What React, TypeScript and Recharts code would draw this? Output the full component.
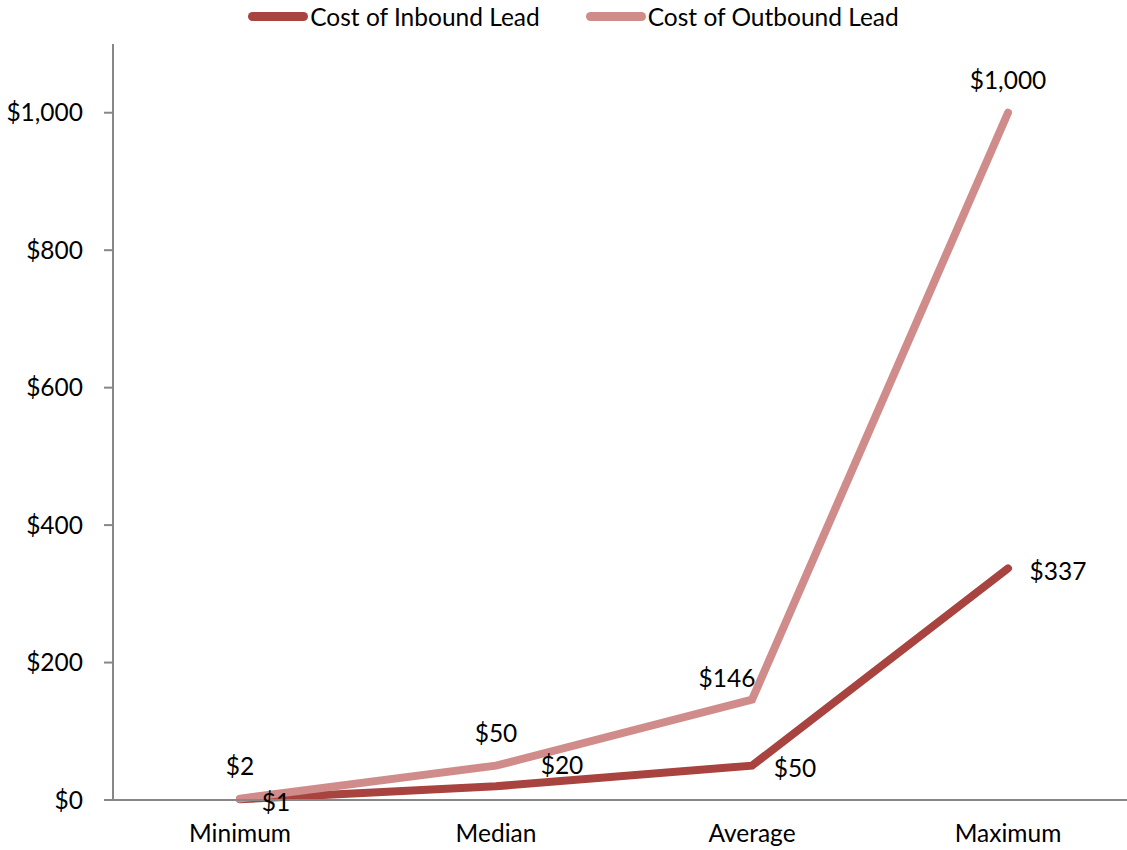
import React from "react";
import { LineChart, Line, XAxis, YAxis, Legend, LabelList } from "recharts";

// Cost per lead: inbound vs outbound, by statistic.

const categories = ["Minimum", "Median", "Average", "Maximum"];
const inboundCost = [1, 20, 50, 337];
const outboundCost = [2, 50, 146, 1000];
const yTicks = [0, 200, 400, 600, 800, 1000];

const INBOUND = "#A8433F";
const OUTBOUND = "#D08C8B";
const AXIS = "#878787";
const FONT = "Lato, 'Open Sans', sans-serif";
const FS = 24.5;

// label nudges (dx, dy) relative to each point, one per category
const inboundShift = [[36, 2], [66, -22], [43, 2], [50, 2]];
const outboundShift = [[0, -33], [0, -33], [-25, -22], [0, -33]];

const data = categories.map((name, i) => ({
  name,
  inbound: inboundCost[i],
  outbound: outboundCost[i],
}));

const money = (v: number) => "$" + v.toLocaleString("en-US");

function makeLabel(shift: number[][]) {
  return (props: any) => {
    const { x, y, value, index } = props;
    const [dx, dy] = shift[index] ?? [0, 0];
    return (
      <text
        x={x + dx}
        y={y + dy}
        textAnchor="middle"
        dominantBaseline="central"
        fontFamily={FONT}
        fontSize={FS}
        fill="#000"
      >
        {money(value)}
      </text>
    );
  };
}

function LegendBox() {
  const items = [
    { label: "Cost of Inbound Lead", color: INBOUND },
    { label: "Cost of Outbound Lead", color: OUTBOUND },
  ];
  return (
    <div
      style={{
        display: "flex",
        justifyContent: "center",
        alignItems: "center",
        height: 32,
        fontFamily: FONT,
        fontSize: FS,
        gap: 46,
        paddingLeft: 10,
      }}
    >
      {items.map((it) => (
        <div key={it.label} style={{ display: "flex", alignItems: "center" }}>
          <span
            style={{
              display: "inline-block",
              width: 60,
              height: 9,
              borderRadius: 5,
              background: it.color,
              marginRight: 2,
            }}
          />
          <span>{it.label}</span>
        </div>
      ))}
    </div>
  );
}

export default function App() {
  return (
    <div
      style={{
        position: "absolute",
        left: 0,
        top: 0,
        width: 1127,
        height: 850,
        overflow: "hidden",
        background: "#fff",
      }}
    >
      <LineChart
        width={1140}
        height={850}
        data={data}
        margin={{ top: 12, right: 3, left: 0, bottom: 0 }}
      >
        <Legend
          verticalAlign="top"
          align="center"
          height={32}
          wrapperStyle={{ top: 0 }}
          content={() => <LegendBox />}
        />
        <XAxis
          dataKey="name"
          height={50}
          padding={{ left: 127, right: 129 }}
          tickLine={false}
          axisLine={{ stroke: AXIS, strokeWidth: 2 }}
          tick={{ fontFamily: FONT, fontSize: FS, fill: "#000" }}
          tickMargin={19}
          interval={0}
        />
        <YAxis
          width={113}
          domain={[0, 1100]}
          ticks={yTicks}
          tickFormatter={money}
          tickSize={9}
          tickMargin={21}
          tickLine={{ stroke: AXIS, strokeWidth: 2 }}
          axisLine={{ stroke: AXIS, strokeWidth: 2 }}
          tick={{ fontFamily: FONT, fontSize: FS, fill: "#000" }}
          interval={0}
        />
        <Line
          dataKey="inbound"
          stroke={INBOUND}
          strokeWidth={8}
          strokeLinecap="round"
          dot={false}
          isAnimationActive={false}
        >
          <LabelList dataKey="inbound" content={makeLabel(inboundShift)} />
        </Line>
        <Line
          dataKey="outbound"
          stroke={OUTBOUND}
          strokeWidth={8}
          strokeLinecap="round"
          dot={false}
          isAnimationActive={false}
        >
          <LabelList dataKey="outbound" content={makeLabel(outboundShift)} />
        </Line>
      </LineChart>
    </div>
  );
}
